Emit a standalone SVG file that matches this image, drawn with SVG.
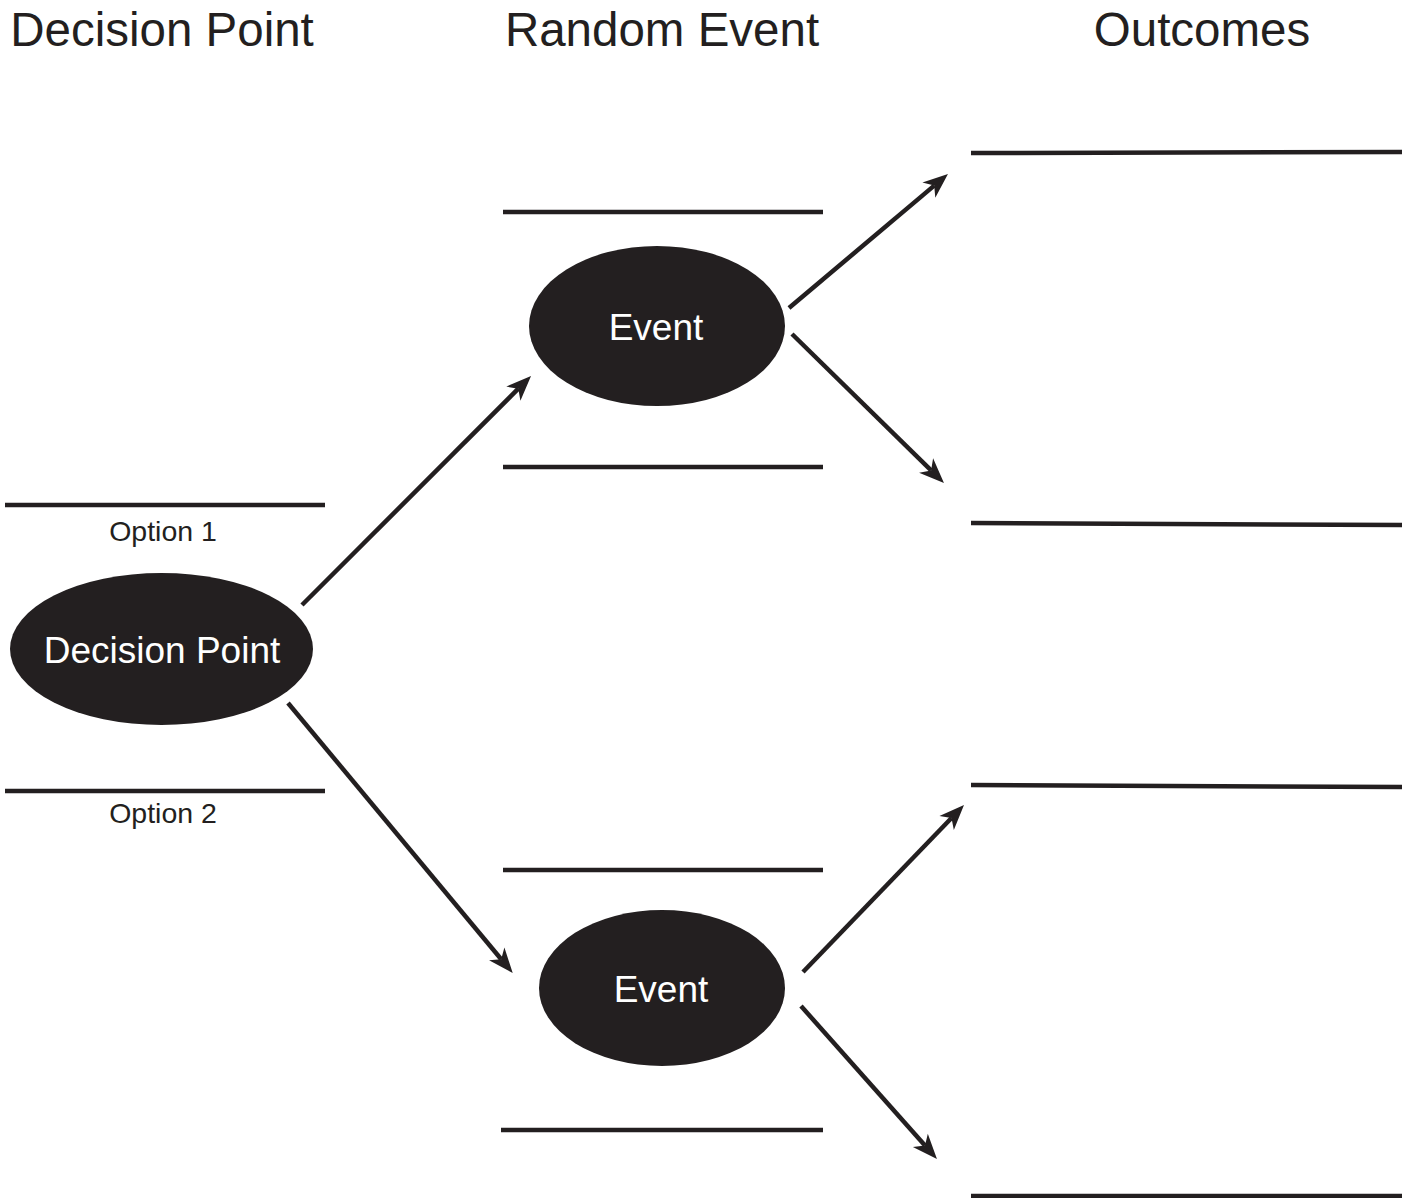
<svg xmlns="http://www.w3.org/2000/svg" width="1408" height="1198" viewBox="0 0 1408 1198">
<defs>
<style>
.title{font-family:"Liberation Sans",Arial,sans-serif;font-size:47.5px;fill:#231f20;text-anchor:middle}
.opt{font-family:"Liberation Sans",Arial,sans-serif;font-size:28.5px;fill:#231f20;text-anchor:middle}
.nodeText{font-family:"Liberation Sans",Arial,sans-serif;font-size:37px;fill:#ffffff;text-anchor:middle}
.node{fill:#231f20}
.rule{stroke:#231f20;stroke-width:4.5;fill:none}
.conn{stroke:#231f20;stroke-width:4.5;fill:none;marker-end:url(#arrow)}
</style>
<marker id="arrow" markerUnits="userSpaceOnUse" markerWidth="30" markerHeight="24" viewBox="0 -12 27 24" refX="7" refY="0" orient="auto" overflow="visible">
<path d="M0,-10 L25,0 L0,10 L7,0 Z" fill="#231f20"/>
</marker>
</defs>
<rect width="1408" height="1198" fill="#ffffff"/>
<g id="titles">
<text class="title" x="162" y="46">Decision Point</text>
<text class="title" x="662" y="46">Random Event</text>
<text class="title" x="1202" y="46">Outcomes</text>
</g>
<g id="rules">
<line class="rule" x1="5" y1="505" x2="325" y2="505"/>
<line class="rule" x1="5" y1="791" x2="325" y2="791"/>
<line class="rule" x1="503" y1="212" x2="823" y2="212"/>
<line class="rule" x1="503" y1="467" x2="823" y2="467"/>
<line class="rule" x1="503" y1="870" x2="823" y2="870"/>
<line class="rule" x1="501" y1="1130" x2="823" y2="1130"/>
<line class="rule" x1="971" y1="153" x2="1402" y2="152"/>
<line class="rule" x1="971" y1="523" x2="1402" y2="525"/>
<line class="rule" x1="971" y1="785" x2="1402" y2="787"/>
<line class="rule" x1="971" y1="1196" x2="1402" y2="1196"/>
</g>
<g id="option-labels">
<text class="opt" x="163" y="541">Option 1</text>
<text class="opt" x="163" y="823">Option 2</text>
</g>
<g id="decision-point">
<ellipse class="node" cx="161.5" cy="649" rx="151.5" ry="76"/>
<text class="nodeText" x="162" y="663">Decision Point</text>
</g>
<g id="event-top">
<ellipse class="node" cx="657" cy="326" rx="128" ry="80"/>
<text class="nodeText" x="656" y="340">Event</text>
</g>
<g id="event-bottom">
<ellipse class="node" cx="662" cy="988" rx="123" ry="78"/>
<text class="nodeText" x="661" y="1002">Event</text>
</g>
<g id="connectors">
<line class="conn" x1="302" y1="605" x2="518.3" y2="388.7"/>
<line class="conn" x1="288" y1="703" x2="501.2" y2="959.2"/>
<line class="conn" x1="789" y1="308" x2="934.2" y2="185.6"/>
<line class="conn" x1="792" y1="334" x2="931.1" y2="470.4"/>
<line class="conn" x1="803" y1="972" x2="951.5" y2="818"/>
<line class="conn" x1="801" y1="1006" x2="925" y2="1145.6"/>
</g>
</svg>
